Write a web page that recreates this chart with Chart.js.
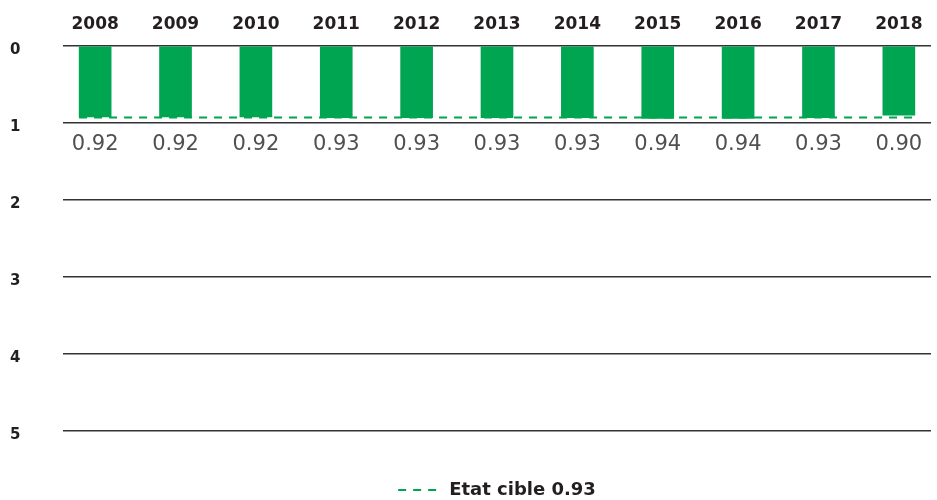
<!DOCTYPE html>
<html>
<head>
<meta charset="utf-8">
<script src="https://cdn.jsdelivr.net/npm/chart.js@4/dist/chart.umd.min.js"></script>
<style>
    html, body { margin: 0; padding: 0; background: #ffffff; }
    #wrap { width: 937px; height: 500px; }
</style>
</head>
<body>
<div id="wrap"><canvas id="ratioChart"></canvas></div>
<script>
// Données
const years = ['2008', '2009', '2010', '2011', '2012', '2013', '2014', '2015', '2016', '2017', '2018'];
const ratios = [0.92, 0.92, 0.92, 0.93, 0.93, 0.93, 0.93, 0.94, 0.94, 0.93, 0.90];
const targetValue = 0.93;
const targetLabel = 'Etat cible 0.93';
const yTicks = [0, 1, 2, 3, 4, 5];

const GREEN = '#00a551';
const DARK = '#231f20';
const FONT = "'DejaVu Sans', 'Liberation Sans', sans-serif";
const DASH = [8, 7];

// Étiquettes de valeur sous la ligne 1
const valueLabels = {
    id: 'valueLabels',
    afterDatasetsDraw(chart) {
        const ctx = chart.ctx;
        const yScale = chart.scales.y;
        const meta = chart.getDatasetMeta(0);
        ctx.save();
        ctx.font = '21px ' + FONT;
        ctx.fillStyle = '#505050';
        ctx.textAlign = 'center';
        ctx.textBaseline = 'middle';
        meta.data.forEach((bar, i) => {
            ctx.fillText(ratios[i].toFixed(2), bar.x, yScale.getPixelForValue(1) + 22);
        });
        ctx.restore();
    }
};

const ctx = document.getElementById('ratioChart');

new Chart(ctx, {
    type: 'bar',
    data: {
        datasets: [
            {
                label: 'Ratio',
                data: ratios.map((v, i) => ({ x: i, y: v })),
                backgroundColor: GREEN,
                barThickness: 32,
                order: 2
            },
            {
                type: 'line',
                label: targetLabel,
                data: [{ x: -0.2, y: targetValue }, { x: years.length - 0.8, y: targetValue }],
                borderColor: GREEN,
                backgroundColor: GREEN,
                borderWidth: 2,
                borderDash: DASH,
                pointRadius: 0,
                fill: false,
                order: 1
            }
        ]
    },
    options: {
        responsive: true,
        maintainAspectRatio: false,
        animation: false,
        layout: {
            padding: { top: 0, left: 10, right: 6, bottom: -9 }
        },
        plugins: {
            tooltip: { enabled: false },
            legend: {
                position: 'bottom',
                fullSize: false,
                title: {
                    display: true,
                    text: ' ',
                    font: { size: 1 },
                    padding: { top: 0, bottom: 45 }
                },
                labels: {
                    filter: item => item.datasetIndex === 1,
                    generateLabels: chart => {
                        const items = Chart.defaults.plugins.legend.labels.generateLabels(chart);
                        items.forEach(item => {
                            item.lineDash = DASH;
                            item.lineWidth = 2;
                            item.strokeStyle = GREEN;
                        });
                        return items;
                    },
                    usePointStyle: true,
                    pointStyle: 'line',
                    pointStyleWidth: 42,
                    color: DARK,
                    padding: 4,
                    font: { family: FONT, size: 18, weight: 'bold' }
                }
            }
        },
        scales: {
            x: {
                type: 'linear',
                position: 'top',
                offset: false,
                min: -0.4,
                max: years.length - 0.6,
                afterFit: scale => { scale.height = 46; },
                grid: { display: false, drawTicks: false, offset: false },
                border: { display: false },
                ticks: {
                    stepSize: 1,
                    includeBounds: false,
                    autoSkip: false,
                    maxRotation: 0,
                    padding: 11,
                    color: DARK,
                    font: { family: FONT, size: 17, weight: 'bold' },
                    callback: v => years[v] !== undefined ? years[v] : ''
                }
            },
            y: {
                reverse: true,
                min: yTicks[0],
                max: yTicks[yTicks.length - 1],
                afterFit: scale => { scale.width = 53; },
                grid: {
                    color: '#333333',
                    lineWidth: 1.5,
                    drawTicks: false
                },
                border: { display: false },
                ticks: {
                    stepSize: 1,
                    crossAlign: 'far',
                    labelOffset: 4,
                    color: DARK,
                    font: { family: FONT, size: 15, weight: 'bold' }
                }
            }
        }
    },
    plugins: [valueLabels]
});
</script>
</body>
</html>
